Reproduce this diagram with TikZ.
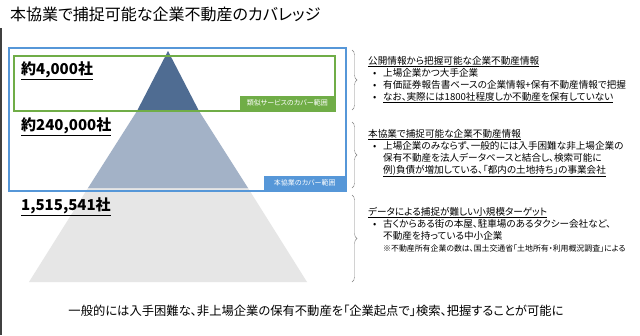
\documentclass[tikz,border=0pt]{standalone}
\usepackage{fontspec}
\setmainfont{Noto Sans CJK JP}[RawFeature=+palt]
\usetikzlibrary{decorations.pathreplacing}

\definecolor{pyrDark}{RGB}{79,108,146}
\definecolor{pyrMid}{RGB}{163,178,199}
\definecolor{pyrGrey}{RGB}{230,230,230}
\definecolor{covBlue}{RGB}{86,151,216}
\definecolor{covGreen}{RGB}{112,173,71}

\newcommand{\bul}{\makebox[15pt][l]{\hspace{5pt}•}}
\newcommand{\ind}{\hspace*{15pt}}

\begin{document}
\begin{tikzpicture}[x=1pt, y=-1pt,
  cnt/.style={anchor=west, inner sep=0pt, font=\fontsize{15}{18}\selectfont\bfseries},
  tag/.style={anchor=south east, inner sep=0pt, text=white, minimum height=15pt,
              font=\fontsize{7}{8}\selectfont},
  blk/.style={anchor=north west, inner sep=0pt, align=left,
              font=\fontsize{9.6}{12}\selectfont}]
  \fill[white] (0,0) rectangle (640,335);
  \useasboundingbox (0,0) rectangle (640,335);
  \draw[darkgray, line width=1.5pt] (0.75,28) -- (0.75,335);

  \node[anchor=west, inner sep=0pt, font=\fontsize{16}{19}\selectfont] (title) at (10,14)
    {本協業で捕捉可能な企業不動産のカバレッジ};

  % pyramid
  \fill[pyrGrey] (88,188) -- (248,188) -- (307,282) -- (29,282) -- cycle;
  \fill[pyrMid] (137,111) -- (199,111) -- (248,188) -- (88,188) -- cycle;
  \fill[pyrDark] (168,51) -- (199,111) -- (137,111) -- cycle;

  % coverage frames
  \draw[covBlue, line width=1.2pt] (9,48) rectangle (346,191);
  \draw[covGreen, line width=1.2pt] (14,56) rectangle (335,111);
  \node[tag, fill=covGreen, minimum width=95pt] (tagGreen) at (335,111) {類似サービスのカバー範囲};
  \node[tag, fill=covBlue, minimum width=82pt] (tagBlue) at (346,191) {本協業のカバー範囲};

  \node[cnt] (cnt1) at (21,71) {\underline{約4,000社}};
  \node[cnt] (cnt2) at (21,127) {\underline{約240,000社}};
  \node[cnt] (cnt3) at (21,207) {\underline{1,515,541社}};

  \foreach \ya/\yb in {50/110, 122/188, 195/282}
    \draw[gray, decorate, decoration={brace, amplitude=5pt}] (352,\ya) -- (352,\yb);

  \node[blk] (info1) at (368,56) {\underline{公開情報から把握可能な企業不動産情報}\\
    \bul 上場企業かつ大手企業\\
    \bul 有価証券報告書ベースの企業情報+保有不動産情報で把握\\
    \bul \underline{なお、実際には1800社程度しか不動産を保有していない}};
  \node[blk] (info2) at (368,129) {\underline{本協業で捕捉可能な企業不動産情報}\\
    \bul 上場企業のみならず、一般的には入手困難な非上場企業の\\
    \ind 保有不動産を法人データベースと結合し、検索可能に\\
    \ind \underline{例)負債が増加している、「都内の土地持ち」の事業会社}};
  \node[blk] (info3) at (368,207) {\underline{データによる捕捉が難しい小規模ターゲット}\\
    \bul 古くからある街の本屋、駐車場のあるタクシー会社など、\\
    \ind 不動産を持っている中小企業\\
    \ind {\fontsize{7.9}{12}\selectfont ※不動産所有企業の数は、国土交通省「土地所有・利用概況調査」による}};

  \node[font=\fontsize{12.3}{14}\selectfont] (summary) at (316,311)
    {一般的には入手困難な、非上場企業の保有不動産を「企業起点で」検索、把握することが可能に};
\end{tikzpicture}
\end{document}
